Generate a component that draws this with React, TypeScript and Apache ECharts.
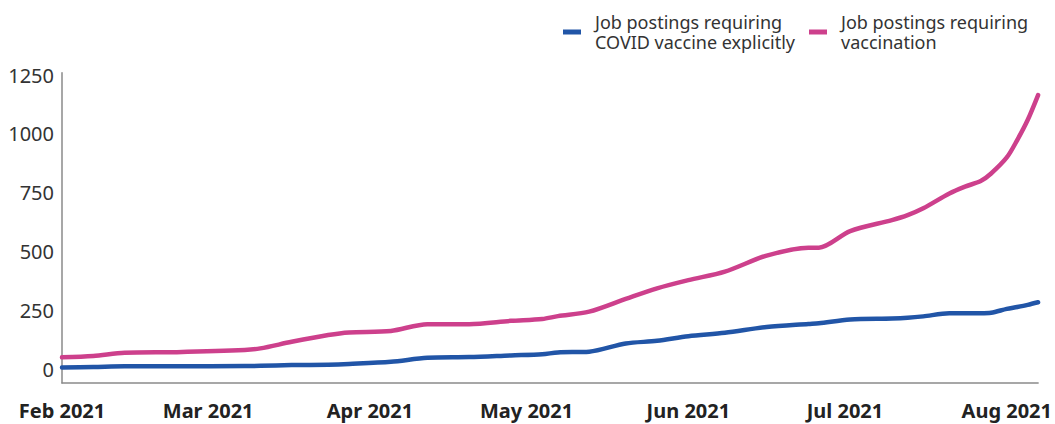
import React, { useEffect, useRef } from "react";
import * as echarts from "echarts";

const DATES = [
  "2021-02-01", "2021-02-07", "2021-02-13", "2021-02-23", "2021-03-08", "2021-03-11",
  "2021-03-17", "2021-03-24", "2021-03-28", "2021-04-05", "2021-04-12", "2021-04-20",
  "2021-04-28", "2021-05-04", "2021-05-07", "2021-05-13", "2021-05-20", "2021-05-26",
  "2021-06-01", "2021-06-08", "2021-06-16", "2021-06-24", "2021-06-26", "2021-07-02",
  "2021-07-10", "2021-07-13", "2021-07-16", "2021-07-21", "2021-07-24", "2021-07-27",
  "2021-07-29", "2021-08-01", "2021-08-03", "2021-08-05", "2021-08-07",
];

const COVID_EXPLICIT = [
  8, 10, 13, 13, 14, 15,
  18, 20, 23, 32, 49, 52,
  59, 64, 72, 75, 110, 121,
  141, 155, 180, 193, 196, 212,
  216, 219, 225, 238, 238, 238,
  240, 257, 265, 274, 285,
];

const VACCINATION = [
  51, 57, 70, 73, 82, 89,
  117, 146, 157, 163, 192, 192,
  206, 214, 226, 245, 299, 344,
  379, 415, 483, 517, 517, 587,
  634, 655, 684, 747, 776, 800,
  832, 900, 974, 1059, 1165,
];

const SERIES_NAMES = [
  "Job postings requiring\nCOVID vaccine explicitly",
  "Job postings requiring\nvaccination",
];

const Y_TICKS = [0, 250, 500, 750, 1000, 1250];
const X_TICK_DATES = [
  "2021-02-01", "2021-03-01", "2021-04-01", "2021-05-01",
  "2021-06-01", "2021-07-01", "2021-08-01",
];
const X_TICK_LABELS = [
  "Feb 2021", "Mar 2021", "Apr 2021", "May 2021", "Jun 2021", "Jul 2021", "Aug 2021",
];

const X_MIN = "2021-02-01";
const X_MAX = "2021-08-07";
const Y_MIN = -58;
const Y_MAX = 1260;

const BLUE = "#2155a7";
const PINK = "#cd408c";
const FONT = "Noto Sans";

function toTs(s: string): number {
  const [y, m, d] = s.split("-").map(Number);
  return Date.UTC(y, m - 1, d);
}

export default function App() {
  const ref = useRef<HTMLDivElement>(null);

  useEffect(() => {
    if (!ref.current) return;
    const chart = echarts.init(ref.current, null, { renderer: "svg" });
    const tickTs = X_TICK_DATES.map(toTs);
    const legendText = {
      color: "#333",
      fontSize: 18,
      fontFamily: FONT,
      lineHeight: 20,
      padding: [0, 0, 0, 9],
    };
    chart.setOption({
      animation: false,
      backgroundColor: "#fff",
      textStyle: { fontFamily: FONT },
      grid: { left: 62, right: 16, top: 72.7, bottom: 41, containLabel: false },
      legend: [
        {
          data: [SERIES_NAMES[0]],
          left: 563,
          top: 12,
          padding: 0,
          icon: "rect",
          itemWidth: 18,
          itemHeight: 5,
          textStyle: legendText,
        },
        {
          data: [SERIES_NAMES[1]],
          left: 809,
          top: 12,
          padding: 0,
          icon: "rect",
          itemWidth: 18,
          itemHeight: 5,
          textStyle: legendText,
        },
      ],
      xAxis: {
        type: "value",
        min: toTs(X_MIN),
        max: toTs(X_MAX),
        axisLine: { show: true, onZero: false, lineStyle: { color: "#8a8a8a", width: 1.5 } },
        axisTick: { show: false },
        splitLine: { show: false },
        axisLabel: {
          customValues: tickTs,
          margin: 17,
          fontSize: 20,
          fontWeight: "bold",
          color: "#222",
          fontFamily: FONT,
          hideOverlap: false,
          formatter: (v: number) => {
            const i = tickTs.indexOf(v);
            return i >= 0 ? X_TICK_LABELS[i] : "";
          },
        },
      },
      yAxis: {
        type: "value",
        min: Y_MIN,
        max: Y_MAX,
        axisLine: { show: true, onZero: false, lineStyle: { color: "#8a8a8a", width: 1.5 } },
        axisTick: { show: false },
        splitLine: { show: false },
        axisLabel: {
          customValues: Y_TICKS,
          margin: 8,
          fontSize: 20,
          color: "#333",
          fontFamily: FONT,
          formatter: (v: number) => String(v),
        },
      },
      series: [
        {
          name: SERIES_NAMES[0],
          type: "line",
          data: DATES.map((d, i) => [toTs(d), COVID_EXPLICIT[i]]),
          showSymbol: false,
          smooth: 0.3,
          color: BLUE,
          lineStyle: { color: BLUE, width: 4.5, cap: "round", join: "round" },
        },
        {
          name: SERIES_NAMES[1],
          type: "line",
          data: DATES.map((d, i) => [toTs(d), VACCINATION[i]]),
          showSymbol: false,
          smooth: 0.3,
          color: PINK,
          lineStyle: { color: PINK, width: 4.5, cap: "round", join: "round" },
        },
      ],
    });
    return () => chart.dispose();
  }, []);

  return (
    <div
      ref={ref}
      style={{ position: "fixed", left: 0, top: 0, width: 1055, height: 424 }}
    />
  );
}
